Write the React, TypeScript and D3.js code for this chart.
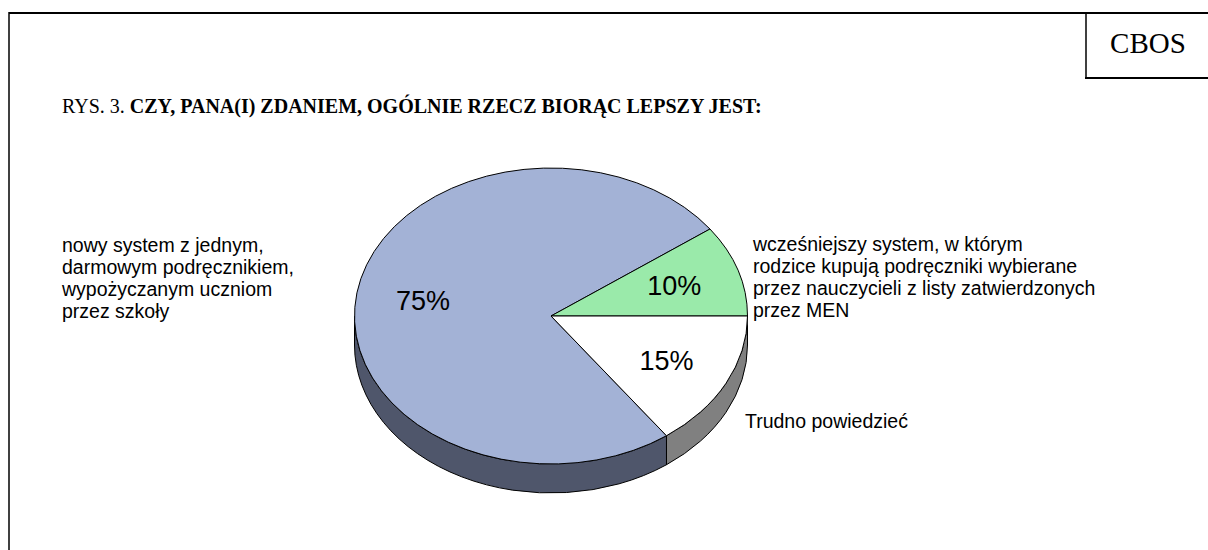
import React from "react";
import * as d3 from "d3";

const categories = [
  "nowy system z jednym, darmowym podręcznikiem, wypożyczanym uczniom przez szkoły",
  "wcześniejszy system, w którym rodzice kupują podręczniki wybierane przez nauczycieli z listy zatwierdzonych przez MEN",
  "Trudno powiedzieć",
];
const values = [75, 10, 15];
const topColors = ["#A3B2D6", "#9AEAAA", "#FFFFFF"];
const sideColors = ["#4F566B", "#5C7A62", "#808080"];

const labelLines = [
  ["nowy system z jednym,", "darmowym podręcznikiem,", "wypożyczanym uczniom", "przez szkoły"],
  [
    "wcześniejszy system, w którym",
    "rodzice kupują podręczniki wybierane",
    "przez nauczycieli z listy zatwierdzonych",
    "przez MEN",
  ],
  ["Trudno powiedzieć"],
];
const labelPos = [
  { x: 62, y: 245 },
  { x: 753, y: 244 },
  { x: 745, y: 421 },
];

const W = 1208;
const H = 550;
const cx = 551;
const cy = 316;
const rx = 196.5;
const ry = 148;
const depth = 29;

function pt(theta: number, dy = 0): [number, number] {
  return [cx + rx * Math.cos(theta), cy + dy + ry * Math.sin(theta)];
}

export default function App() {
  const start = (144 * Math.PI) / 180;
  const pie = d3
    .pie<number>()
    .sort(null)
    .value((d) => d)
    .startAngle(start)
    .endAngle(start + 2 * Math.PI);
  const arcs = pie(values);

  const slices = arcs.map((a, i) => {
    const t1 = a.startAngle - Math.PI / 2;
    const t2 = a.endAngle - Math.PI / 2;
    const p1 = pt(t1);
    const p2 = pt(t2);
    const large = t2 - t1 > Math.PI ? 1 : 0;
    const top = `M${cx},${cy}L${p1[0]},${p1[1]}A${rx},${ry} 0 ${large} 1 ${p2[0]},${p2[1]}Z`;
    const sides: string[] = [];
    for (const k of [0, 2 * Math.PI, 4 * Math.PI]) {
      const s = Math.max(t1, k);
      const e = Math.min(t2, k + Math.PI);
      if (e > s + 1e-6) {
        const a1 = pt(s);
        const a2 = pt(e);
        const b2 = pt(e, depth);
        const b1 = pt(s, depth);
        const lg = e - s > Math.PI ? 1 : 0;
        sides.push(
          `M${a1[0]},${a1[1]}A${rx},${ry} 0 ${lg} 1 ${a2[0]},${a2[1]}L${b2[0]},${b2[1]}A${rx},${ry} 0 ${lg} 0 ${b1[0]},${b1[1]}Z`
        );
      }
    }
    const mid = (t1 + t2) / 2;
    const lf = 0.66;
    const lx = cx + rx * lf * Math.cos(mid);
    const ly = cy + ry * lf * Math.sin(mid);
    return { top, sides, lx, ly, i };
  });

  return (
    <svg
      width={W}
      height={H}
      viewBox={`0 0 ${W} ${H}`}
      style={{ position: "absolute", left: 0, top: 0, background: "#fff" }}
    >
      <rect x={0} y={0} width={W} height={H} fill="#fff" />
      <line x1={9} y1={13} x2={W} y2={13} stroke="#000" strokeWidth={2} />
      <line x1={9} y1={12} x2={9} y2={H} stroke="#000" strokeWidth={1.5} />
      <line x1={1086} y1={13} x2={1086} y2={78} stroke="#000" strokeWidth={1.5} />
      <line x1={1085} y1={78} x2={W} y2={78} stroke="#000" strokeWidth={2} />
      <text
        x={1148}
        y={43}
        dy="0.35em"
        textAnchor="middle"
        fontFamily="'Liberation Serif', 'Times New Roman', serif"
        fontSize={29}
        fill="#000"
      >
        CBOS
      </text>
      <text
        x={62}
        y={106}
        dy="0.35em"
        fontFamily="'Liberation Serif', 'Times New Roman', serif"
        fontSize={20}
        fill="#000"
      >
        RYS. 3.{" "}
        <tspan fontWeight="bold">CZY, PANA(I) ZDANIEM, OGÓLNIE RZECZ BIORĄC LEPSZY JEST:</tspan>
      </text>

      {slices.map((s) =>
        s.sides.map((d, j) => (
          <path key={`s${s.i}-${j}`} d={d} fill={sideColors[s.i]} stroke="#000" strokeWidth={1} strokeLinejoin="round" />
        ))
      )}
      {slices.map((s) => (
        <path key={`t${s.i}`} d={s.top} fill={topColors[s.i]} stroke="#000" strokeWidth={1} strokeLinejoin="round" />
      ))}
      {slices.map((s) => (
        <text
          key={`p${s.i}`}
          x={s.lx}
          y={s.ly}
          dy="0.35em"
          textAnchor="middle"
          fontFamily="'Liberation Sans', Arial, sans-serif"
          fontSize={27}
          fill="#000"
        >
          {`${values[s.i]}%`}
        </text>
      ))}
      {labelLines.map((lines, i) => (
        <text
          key={`l${i}`}
          fontFamily="'Liberation Sans', Arial, sans-serif"
          fontSize={19.5}
          fill="#000"
          aria-label={categories[i]}
        >
          {lines.map((ln, k) => (
            <tspan key={k} x={labelPos[i].x} y={labelPos[i].y + k * 22} dy="0.35em">
              {ln}
            </tspan>
          ))}
        </text>
      ))}
    </svg>
  );
}
